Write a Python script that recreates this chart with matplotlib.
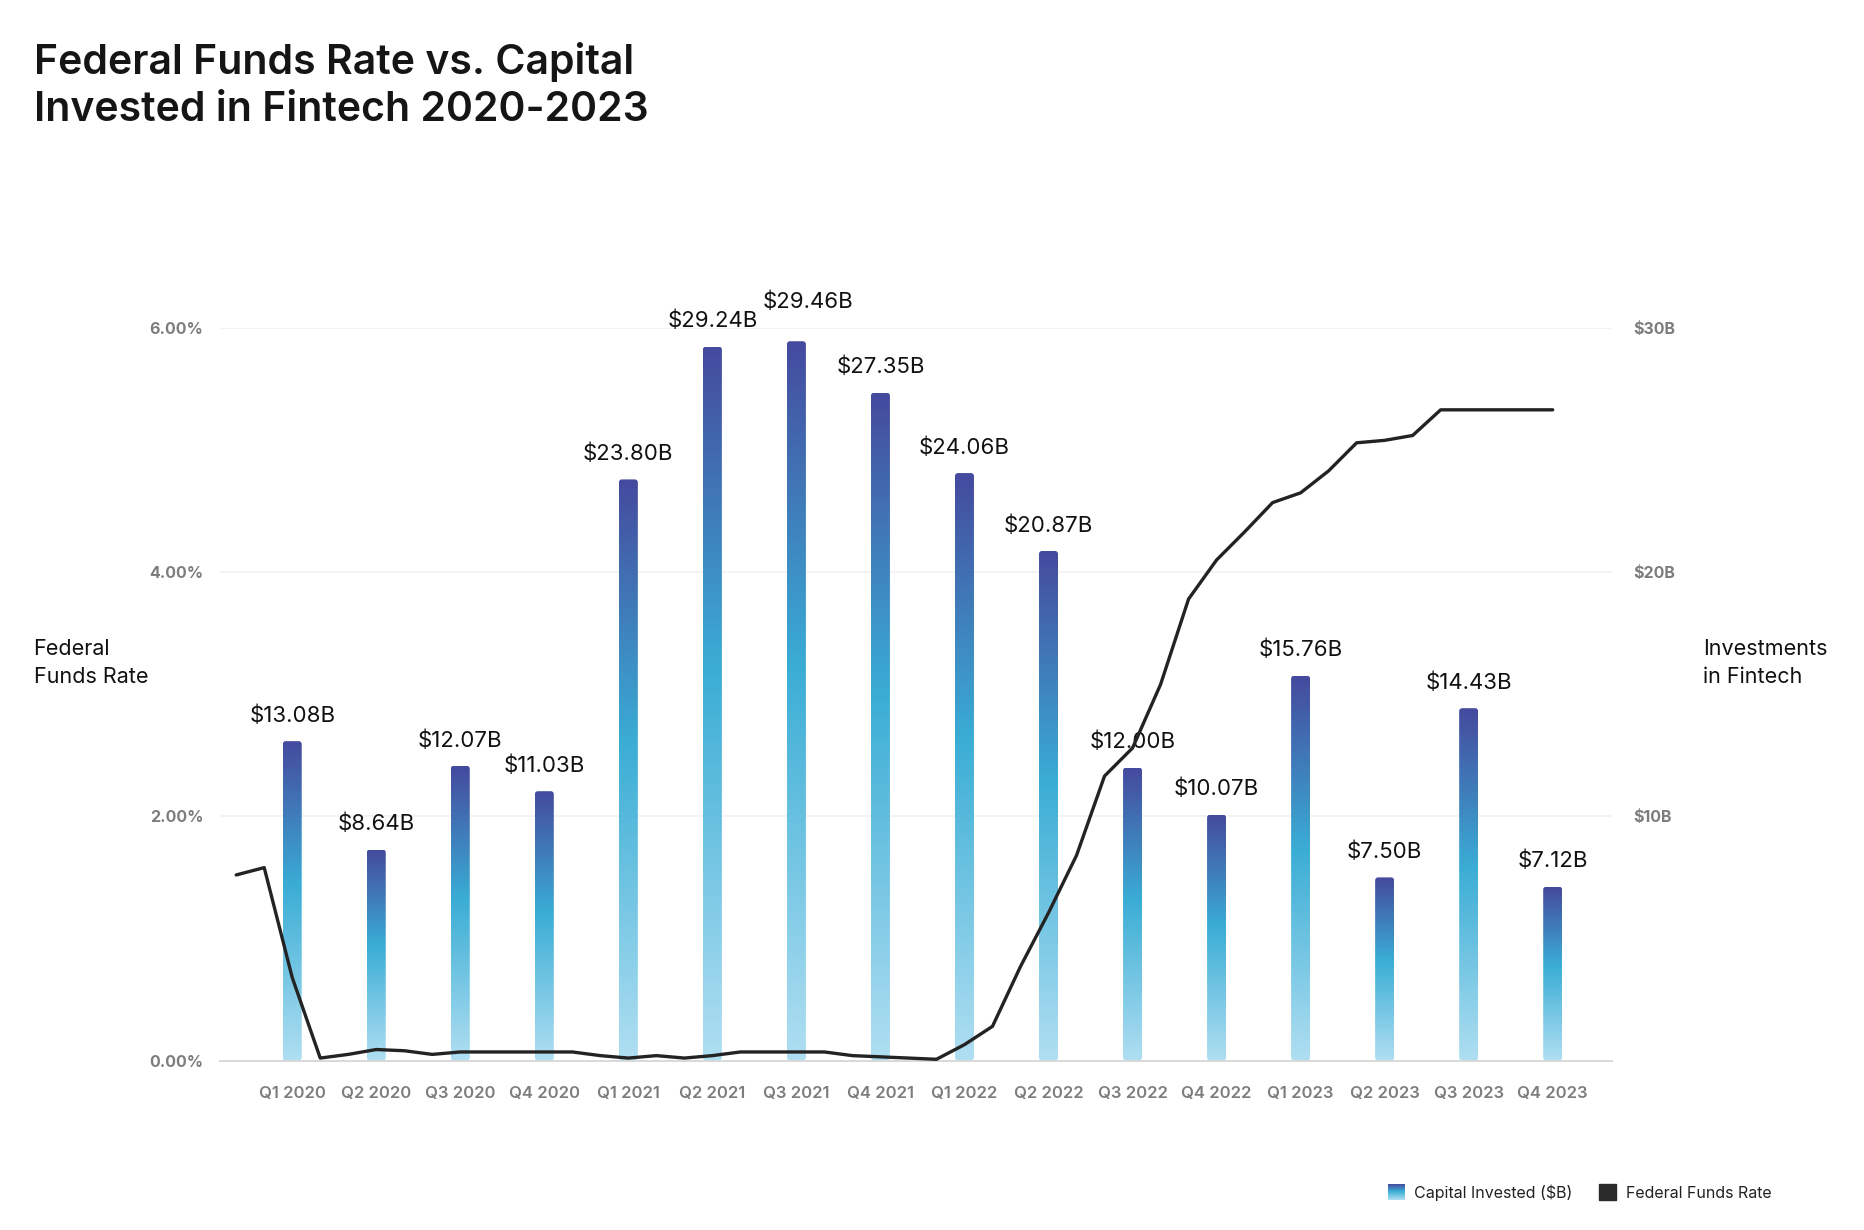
import numpy as np
import matplotlib
matplotlib.use('Agg')
import matplotlib.pyplot as plt
from matplotlib.colors import LinearSegmentedColormap
from matplotlib.patches import FancyBboxPatch, Rectangle

plt.rcParams['font.family'] = ['Inter', 'DejaVu Sans']

# quarterly capital invested in fintech ($B)
quarters = ['Q1 2020', 'Q2 2020', 'Q3 2020', 'Q4 2020',
            'Q1 2021', 'Q2 2021', 'Q3 2021', 'Q4 2021',
            'Q1 2022', 'Q2 2022', 'Q3 2022', 'Q4 2022',
            'Q1 2023', 'Q2 2023', 'Q3 2023', 'Q4 2023']
capital = [13.08, 8.64, 12.07, 11.03,
           23.80, 29.24, 29.46, 27.35,
           24.06, 20.87, 12.00, 10.07,
           15.76, 7.50, 14.43, 7.12]

# monthly federal funds rate (%), Jan 2020 .. Dec 2023
fed_2020 = [1.52, 1.58, 0.68, 0.02, 0.05, 0.09, 0.08, 0.05, 0.07, 0.07, 0.07, 0.07]
fed_2021 = [0.07, 0.04, 0.02, 0.04, 0.02, 0.04, 0.07, 0.07, 0.07, 0.07, 0.04, 0.03]
fed_2022 = [0.02, 0.01, 0.13, 0.28, 0.77, 1.21, 1.68, 2.33, 2.56, 3.08, 3.78, 4.10]
fed_2023 = [4.33, 4.57, 4.65, 4.83, 5.06, 5.08, 5.12, 5.33, 5.33, 5.33, 5.33, 5.33]
fed_rate = fed_2020 + fed_2021 + fed_2022 + fed_2023

pct_ticks = [0, 2, 4, 6]
usd_ticks = [10, 20, 30]

# months on the quarter axis: each quarter label sits on its last month
month_pos = np.arange(len(fed_rate)) / 3 - 2 / 3

cmap = LinearSegmentedColormap.from_list(
    'bars', [(0.0, '#b0dff2'), (0.55, '#3aadd5'), (1.0, '#454a9e')])
grad = np.linspace(0, 1, 256).reshape(-1, 1)

fig = plt.figure(figsize=(18.64, 12.30), dpi=100)
ax = fig.add_axes([0.118, 0.1378, 0.747, 0.5955])
ax2 = ax.twinx()

bw = 0.226
# label nudges (points) where two labels would collide
nudge = {6: (8, 10)}
for i, v in enumerate(capital):
    x0 = i - bw / 2
    im = ax2.imshow(grad, cmap=cmap, origin='lower', extent=(x0, x0 + bw, 0, v),
                    aspect='auto', interpolation='bicubic', zorder=2)
    box = FancyBboxPatch((x0, 0), bw, v, boxstyle='round,pad=0,rounding_size=0.036',
                         mutation_aspect=3.4, transform=ax2.transData,
                         facecolor='none', edgecolor='none')
    ax2.add_patch(box)
    im.set_clip_path(box)
    dx, dy = nudge.get(i, (0, 0))
    ax2.annotate(f'${v:.2f}B', (i, v), xytext=(dx, 11 + dy), textcoords='offset points',
                 ha='center', va='bottom', fontsize=16, color='#111111')

ax.plot(month_pos, fed_rate, color='#232323', lw=2.4,
        solid_joinstyle='round', solid_capstyle='round', zorder=3)

ax.set_zorder(ax2.get_zorder() + 1)
ax.patch.set_visible(False)

ax.set_xlim(-0.86, 15.71)
ax.set_ylim(0, 6)
ax2.set_ylim(0, 30)

ax.set_xticks(range(len(quarters)))
ax.set_xticklabels(quarters)
ax.set_yticks(pct_ticks)
ax.set_yticklabels([f'{t:.2f}%' for t in pct_ticks])
ax2.set_yticks(usd_ticks)
ax2.set_yticklabels([f'${t}B' for t in usd_ticks])

ax2.grid(axis='y', color='#f1f1f1', lw=1.2)
ax2.set_axisbelow(True)

for a in (ax, ax2):
    for s in a.spines.values():
        s.set_visible(False)
ax.spines['bottom'].set_visible(True)
ax.spines['bottom'].set_color('#d6d6d6')
ax.spines['bottom'].set_linewidth(1.3)

ax.tick_params(axis='x', length=0, pad=18, labelsize=12, labelcolor='#7d7d7d')
ax.tick_params(axis='y', length=0, pad=12, labelsize=11.5, labelcolor='#7d7d7d')
ax2.tick_params(axis='y', length=0, pad=15, labelsize=11.5, labelcolor='#7d7d7d')
for lab in ax.get_xticklabels():
    lab.set_fontweight('semibold')
for lab in ax.get_yticklabels() + ax2.get_yticklabels():
    lab.set_fontweight('bold')

fig.text(0.018, 0.966, 'Federal Funds Rate vs. Capital\nInvested in Fintech 2020-2023',
         fontsize=29.5, fontweight='semibold', va='top', ha='left',
         linespacing=1.32, color='#151515')

fig.text(0.018, 0.461, 'Federal\nFunds Rate', fontsize=15.5, va='center', ha='left',
         linespacing=1.45, color='#111111')
fig.text(0.9136, 0.461, 'Investments\nin Fintech', fontsize=15.5, va='center', ha='left',
         linespacing=1.45, color='#111111')

# legend
lax = fig.add_axes([1388 / 1864, 30 / 1230, 17 / 1864, 16 / 1230])
lax.imshow(grad, cmap=cmap, origin='lower', aspect='auto')
lax.axis('off')
fig.text(1414 / 1864, 37 / 1230, 'Capital Invested ($B)', fontsize=11.5,
         va='center', ha='left', color='#222222')
fig.patches.append(Rectangle((1599 / 1864, 30 / 1230), 17 / 1864, 16 / 1230,
                             transform=fig.transFigure, color='#2a2a2a'))
fig.text(1626 / 1864, 37 / 1230, 'Federal Funds Rate', fontsize=11.5,
         va='center', ha='left', color='#222222')

fig.savefig('out.png', dpi=100)
